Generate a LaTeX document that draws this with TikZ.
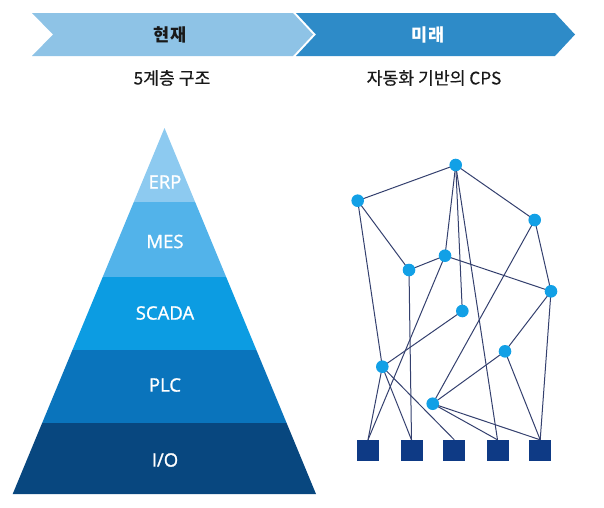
\documentclass[tikz,border=0pt]{standalone}
\usepackage{fontspec}
\setmainfont{Noto Sans CJK KR}
\newfontfamily\latinfont{Open Sans}[FakeBold=1.2]
\newfontfamily\subfont{Noto Sans CJK KR}[FakeBold=0.4]
\usetikzlibrary{backgrounds}
\definecolor{barL}{HTML}{8EC3E6}
\definecolor{barR}{HTML}{2E8BC8}
\definecolor{cERP}{HTML}{8DCAF0}
\definecolor{cMES}{HTML}{52B3EA}
\definecolor{cSCADA}{HTML}{0C9CE2}
\definecolor{cPLC}{HTML}{0A74BC}
\definecolor{cIO}{HTML}{08477F}
\definecolor{dotc}{HTML}{12A0E6}
\definecolor{linec}{HTML}{34406E}
\definecolor{sqc}{HTML}{0E3A85}
\begin{document}
\begin{tikzpicture}[x=1pt,y=-1pt,
  dot/.style={circle,fill=dotc,inner sep=0pt,minimum size=12.6pt},
  sq/.style={rectangle,fill=sqc,inner sep=0pt,minimum width=22pt,minimum height=21pt},
  link/.style={draw=linec,line width=1pt},
  lvl/.style={text=white,font=\latinfont\fontsize{18.5}{20}\selectfont},
  bartext/.style={font=\bfseries\fontsize{17.5}{20}\selectfont},
  subtext/.style={font=\subfont\fontsize{17.2}{20}\selectfont,text=black!90}]
\useasboundingbox (0,0) rectangle (604,507);
% top chevrons
\fill[barL] (32,13) -- (293,13) -- (313,34.5) -- (293,56) -- (32,56) -- (53,34.5) -- cycle;
\fill[barR] (296,13) -- (555,13) -- (575,34.5) -- (555,56) -- (296,56) -- (316,34.5) -- cycle;
\node[bartext,text=black!90] (now) at (170,34.5) {현재};
\node[bartext,text=white] (fut) at (428,34.5) {미래};
\node[subtext] (nowsub) at (172,78) {5계층 구조};
\node[subtext] (futsub) at (434,78) {자동화 기반의 CPS};
% pyramid
\begin{scope}
\clip (164.5,128) -- (316,494) -- (12.7,494) -- cycle;
\fill[cERP] (0,120) rectangle (340,201.5);
\fill[cMES] (0,201.5) rectangle (340,276.5);
\fill[cSCADA] (0,276.5) rectangle (340,349.5);
\fill[cPLC] (0,349.5) rectangle (340,423);
\fill[cIO] (0,423) rectangle (340,500);
\end{scope}
\node[lvl] (erp) at (165,182) {ERP};
\node[lvl] (mes) at (165,241.5) {MES};
\node[lvl] (scada) at (165,313) {SCADA};
\node[lvl] (plc) at (165,385) {PLC};
\node[lvl] (io) at (165,460) {I/O};
% network
\node[dot] (A) at (455.7,165) {};
\node[dot] (B) at (357.7,200.7) {};
\node[dot] (C) at (534.7,220) {};
\node[dot] (D) at (445,255.7) {};
\node[dot] (E) at (409,270) {};
\node[dot] (F) at (551,291.3) {};
\node[dot] (G) at (462.3,311) {};
\node[dot] (H) at (505,351.3) {};
\node[dot] (I) at (382.3,366.7) {};
\node[dot] (J) at (432.7,403.7) {};
\node[sq] (S1) at (368,450.5) {};
\node[sq] (S2) at (411.5,450.5) {};
\node[sq] (S3) at (454.3,450.5) {};
\node[sq] (S4) at (497.5,450.5) {};
\node[sq] (S5) at (540.2,450.5) {};
\begin{scope}[on background layer]
\draw[link] (A.center) -- (B.center);
\draw[link] (A.center) -- (C.center);
\draw[link] (A.center) -- (D.center);
\draw[link] (A.center) -- (G.center);
\draw[link] (A.center) -- (S4.north);
\draw[link] (B.center) -- (E.center);
\draw[link] (B.center) -- (I.center);
\draw[link] (E.center) -- (D.center);
\draw[link] (E.center) -- (S2.north);
\draw[link] (D.center) -- (F.center);
\draw[link] (D.center) -- (S1.north);
\draw[link] (C.center) -- (J.center);
\draw[link] (C.center) -- (F.center);
\draw[link] (F.center) -- (H.center);
\draw[link] (F.center) -- (S5.north);
\draw[link] (G.center) -- (I.center);
\draw[link] (H.center) -- (J.center);
\draw[link] (H.center) -- (S5.north);
\draw[link] (I.center) -- (S1.north);
\draw[link] (I.center) -- (S2.north);
\draw[link] (I.center) -- (S3.north);
\draw[link] (J.center) -- (S4.north);
\draw[link] (J.center) -- (S5.north);
\end{scope}
\end{tikzpicture}
\end{document}
